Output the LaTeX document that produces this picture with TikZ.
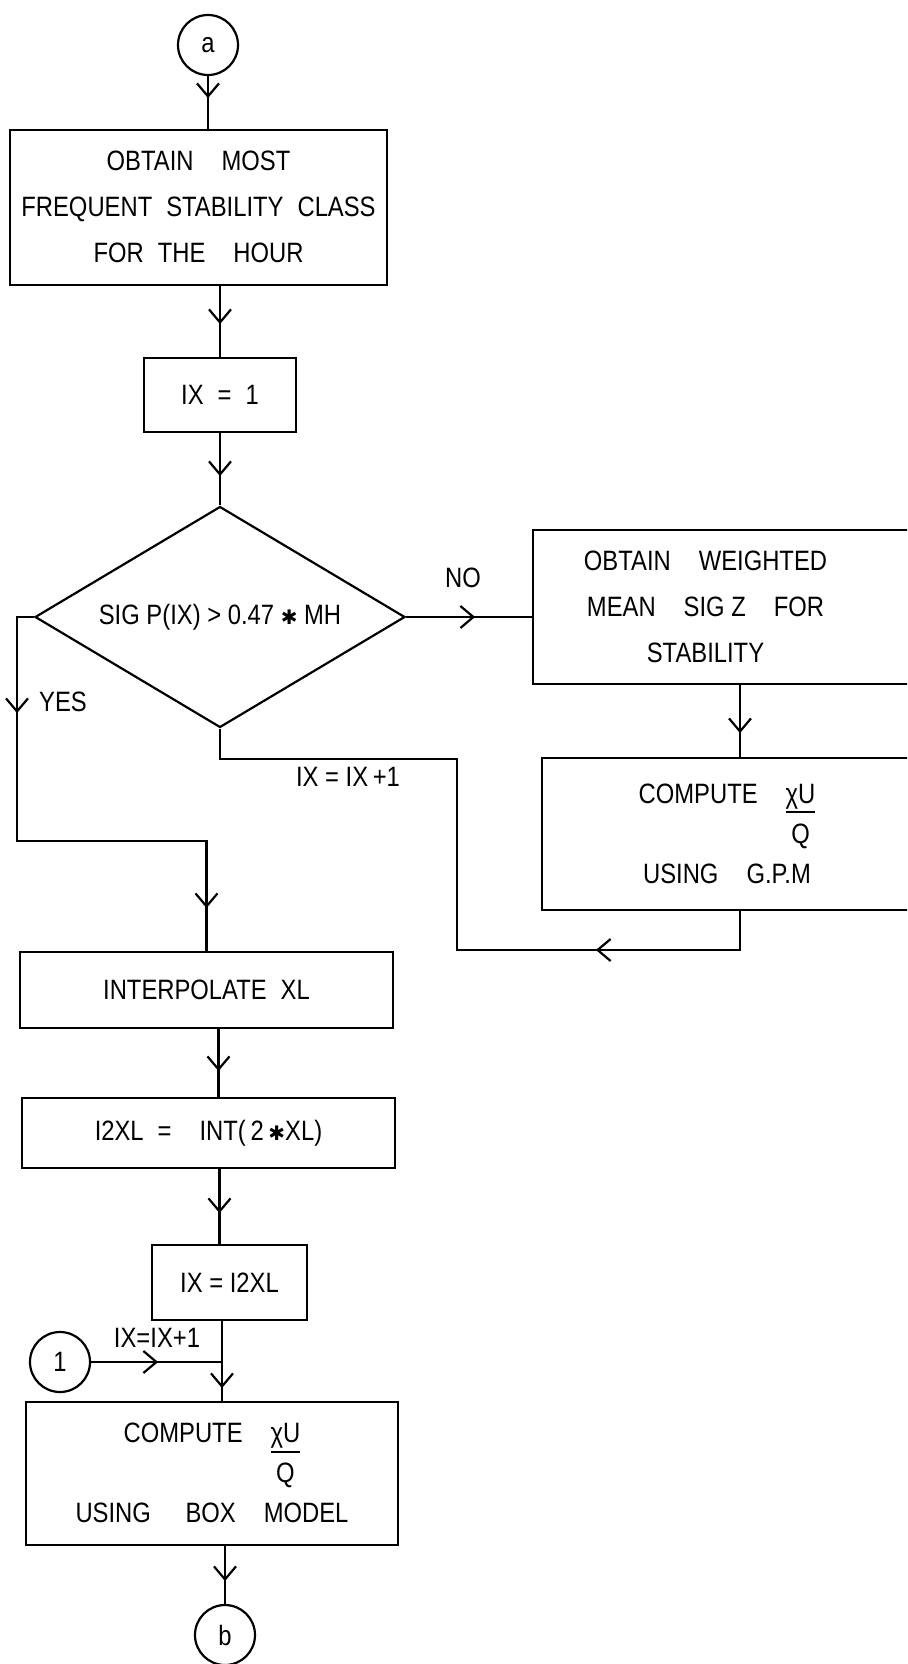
\documentclass[tikz,border=0pt]{standalone}
\usepackage{fontspec}
\newfontfamily\lettering{Liberation Sans}[FakeStretch=0.85]
\newfontfamily\symbolfont{DejaVu Sans}
\usetikzlibrary{positioning, arrows.meta, shapes.geometric, decorations.markings}
\newcommand{\blob}{{\symbolfont\fontsize{10}{10}\selectfont ✱}}
\newcommand{\boxlines}[1]{{\renewcommand{\arraystretch}{1}\begin{tabular}{@{}c@{}}#1\end{tabular}}}
\newcommand{\xuq}{{\fontsize{14}{13}\selectfont\renewcommand{\arraystretch}{1}\setlength{\arrayrulewidth}{1pt}%
  \begin{tabular}[t]{@{}c@{}}χU\\\hline\rule{0pt}{15pt}Q\end{tabular}}}

\begin{document}
\begin{tikzpicture}[
    x=0.5pt, y=-0.5pt,
    flow/.style={line width=1.1pt},
    proc/.style={draw, rectangle, line width=1.1pt, inner sep=0pt,
      font=\lettering\fontsize{14}{23}\selectfont},
    conn/.style={draw, circle, line width=1.1pt, minimum size=30pt, inner sep=0pt,
      font=\lettering\fontsize{14}{17}\selectfont},
    dec/.style={draw, diamond, line width=1.1pt, aspect=1.67, inner sep=0pt,
      minimum width=185pt, minimum height=110.5pt,
      font=\lettering\fontsize{14}{17}\selectfont},
    tag/.style={inner sep=1pt, font=\lettering\fontsize{14}{17}\selectfont},
    arrowat/.style={postaction={decorate, decoration={markings,
      mark=at position #1 with {\arrow{Straight Barb[length=6.5pt, width=11pt, line width=1.1pt]}}}}}
]
  \clip (0,0) rectangle (907,1664);

  % main column
  \node[conn] (cona) at (208,45) {a};
  \node[proc, minimum width=188.5pt, minimum height=77.5pt] (mostfreq) at (198.5,207.5)
    {\boxlines{OBTAIN\quad MOST\\ FREQUENT\enskip STABILITY\enskip CLASS\\ FOR\enskip THE\quad HOUR}};
  \node[proc, minimum width=76pt, minimum height=37pt] (setix) at (220,395) {IX\enskip =\enskip 1};
  \node[dec] (sigtest) at (220,617) {SIG P(IX) > 0.47 \blob\ MH};

  % right branch
  \node[proc, minimum width=202.5pt, minimum height=77pt] (wmean) at (735.5,607)
    {\boxlines{OBTAIN\quad WEIGHTED\\ MEAN\quad SIG Z\quad FOR\\ STABILITY}\hspace*{30pt}};
  \node[proc, minimum width=198pt, minimum height=76pt] (gpm) at (740,834)
    {\boxlines{COMPUTE\quad\xuq\\ USING\quad G.P.M}\hspace*{13pt}};

  % lower column
  \node[proc, minimum width=186.5pt, minimum height=38pt] (interp) at (206.5,990)
    {INTERPOLATE\enskip XL};
  \node[proc, minimum width=186.5pt, minimum height=35pt] (intxl) at (208.5,1133)
    {I2XL\enskip =\quad INT(\,2\,\blob XL)};
  \node[proc, minimum width=77.5pt, minimum height=37.5pt] (setixl) at (229.5,1282.5)
    {IX = I2XL};
  \node[conn] (con1) at (60,1362) {1};
  \node[proc, minimum width=186pt, minimum height=71.5pt] (boxmodel) at (212,1473.5)
    {\boxlines{COMPUTE\quad\xuq\\ USING\quad\ BOX\quad MODEL}};
  \node[conn] (conb) at (225,1635) {b};

  % labels
  \node[tag] (no) at (463,578) {NO};
  \node[tag] (yes) at (63,702) {YES};
  \node[tag] (incr) at (348,777) {IX = IX\,+1};
  \node[tag] (incrb) at (157,1338) {IX=IX+1};

  \coordinate (back1) at (457,950);
  \coordinate (back2) at (457,759);
  \coordinate (yes1) at (17,841);
  \coordinate (join) at (222,1362);

  % connectors
  \draw[flow, arrowat=11pt] (cona) -- (cona |- mostfreq.north);
  \draw[flow, arrowat=19pt] (setix |- mostfreq.south) -- (setix);
  \draw[flow, arrowat=21.5pt] (setix) -- (sigtest);
  \draw[flow, arrowat=34.5pt] (sigtest.east) -- (sigtest.east -| wmean.west);
  \draw[flow, arrowat=24pt] (gpm |- wmean.south) -- (gpm);
  \draw[flow, arrowat=91.5pt] (gpm.south) |- (back1) -- (back2) -| (sigtest.south);
  \draw[flow, arrowat=56.5pt, arrowat=248.75pt] (sigtest.west) -| (yes1) -| (interp.north);
  \draw[flow, arrowat=21pt] ([xshift=6pt]interp.south) -- ([xshift=6pt]interp.south |- intxl.north);
  \draw[flow, arrowat=22pt] ([xshift=5.5pt]intxl.south) -- ([xshift=5.5pt]intxl.south |- setixl.north);
  \draw[flow, arrowat=33.5pt] (con1) -- (join);
  \draw[flow, arrowat=33.5pt] (join |- setixl.south) -- (join |- boxmodel.north);
  \draw[flow, arrowat=17.5pt] (conb |- boxmodel.south) -- (conb);
\end{tikzpicture}
\end{document}
